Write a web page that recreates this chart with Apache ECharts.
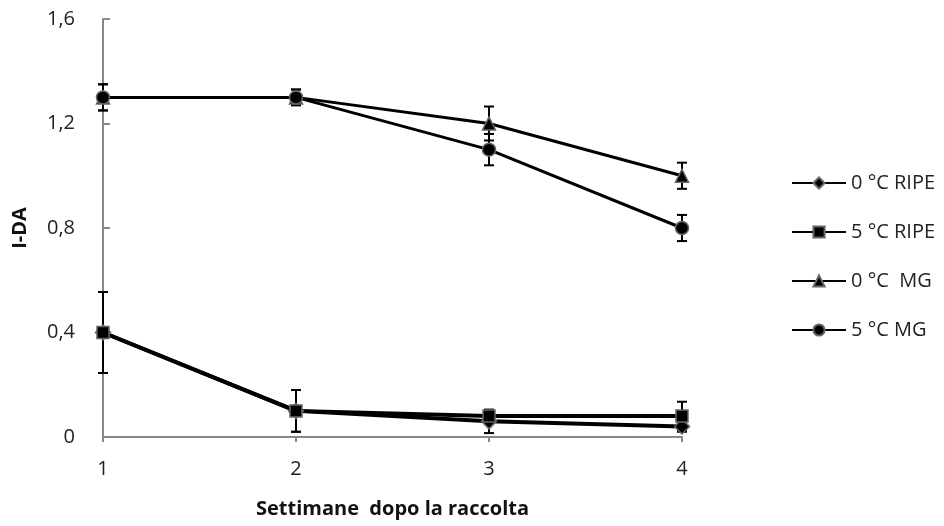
<!DOCTYPE html>
<html>
<head>
<meta charset="utf-8">
<script src="https://cdn.jsdelivr.net/npm/echarts@6/dist/echarts.min.js"></script>
<style>
  html, body { margin: 0; padding: 0; background: #fff; }
  #chart { width: 944px; height: 526px; }
</style>
</head>
<body>
<div id="chart"></div>
<script>
// settimane
const weeks = [1, 2, 3, 4];
const yTicks = [0, 0.4, 0.8, 1.2, 1.6];

// valori I-DA
const ripe0 = [0.4, 0.1, 0.06, 0.04];
const ripe5 = [0.4, 0.1, 0.08, 0.08];
const mg0 = [1.3, 1.3, 1.2, 1.0];
const mg5 = [1.3, 1.3, 1.1, 0.8];

// barre di errore (+/-)
const ripe0Err = [0.155, 0.08, 0.045, 0.02];
const ripe5Err = [0.155, 0.08, 0.02, 0.055];
const mg0Err = [0.05, 0.03, 0.065, 0.05];
const mg5Err = [0.05, 0.03, 0.06, 0.05];

const names = ['0 °C RIPE', '5 °C RIPE', '0 °C  MG', '5 °C MG'];
const symbols = ['diamond', 'rect', 'triangle', 'circle'];
const sizes = [15, 12, 13, 13];
const widths = [4, 4, 3, 3];
const values = [ripe0, ripe5, mg0, mg5];
const errs = [ripe0Err, ripe5Err, mg0Err, mg5Err];

const font = '"Open Sans", sans-serif';

const errData = [];
values.forEach(function (vals, s) {
  vals.forEach(function (v, i) {
    errData.push([weeks[i], v - errs[s][i], v + errs[s][i]]);
  });
});

const series = values.map(function (vals, s) {
  return {
    name: names[s],
    type: 'line',
    z: 3,
    data: vals.map(function (v, i) { return [weeks[i], v]; }),
    symbol: symbols[s],
    symbolSize: sizes[s],
    lineStyle: { color: '#000', width: widths[s] },
    itemStyle: { color: '#000', borderColor: '#666', borderWidth: 1.5 },
    emphasis: { disabled: true }
  };
});

series.push({
  type: 'custom',
  z: 2,
  silent: true,
  data: errData,
  encode: { x: 0, y: [1, 2] },
  renderItem: function (params, api) {
    const lo = api.coord([api.value(0), api.value(1)]);
    const hi = api.coord([api.value(0), api.value(2)]);
    const w = 5;
    const st = { stroke: '#000', lineWidth: 2 };
    return {
      type: 'group',
      children: [
        { type: 'line', shape: { x1: lo[0], y1: lo[1], x2: hi[0], y2: hi[1] }, style: st },
        { type: 'line', shape: { x1: lo[0] - w, y1: lo[1], x2: lo[0] + w, y2: lo[1] }, style: st },
        { type: 'line', shape: { x1: hi[0] - w, y1: hi[1], x2: hi[0] + w, y2: hi[1] }, style: st }
      ]
    };
  }
});

const chart = echarts.init(document.getElementById('chart'));
chart.setOption({
  animation: false,
  textStyle: { fontFamily: font },
  grid: { left: 103, right: 262, top: 19, bottom: 89, outerBoundsMode: 'none' },
  legend: {
    data: names,
    orient: 'vertical',
    left: 786,
    top: 168,
    itemWidth: 54,
    itemHeight: 14,
    itemGap: 29,
    textStyle: { fontFamily: font, fontSize: 20, color: '#222' }
  },
  xAxis: {
    type: 'value',
    min: 1,
    max: 4,
    interval: 1,
    name: 'Settimane  dopo la raccolta',
    nameLocation: 'middle',
    nameGap: 62,
    nameTextStyle: { fontFamily: font, fontSize: 20, fontWeight: 'bold', color: '#111' },
    axisLine: { lineStyle: { color: '#888', width: 2 } },
    axisTick: { show: true, length: 5, lineStyle: { color: '#888', width: 2 } },
    axisLabel: { fontFamily: font, fontSize: 20, color: '#222', margin: 22 },
    splitLine: { show: false }
  },
  yAxis: {
    type: 'value',
    min: 0,
    max: 1.6,
    interval: 0.4,
    name: 'I-DA',
    nameLocation: 'middle',
    nameGap: 73,
    nameTextStyle: { fontFamily: font, fontSize: 20, fontWeight: 'bold', color: '#111' },
    axisLine: { show: true, lineStyle: { color: '#888', width: 2 } },
    axisTick: { show: true, inside: true, length: 7, lineStyle: { color: '#888', width: 2 } },
    axisLabel: {
      fontFamily: font, fontSize: 20, color: '#222', margin: 28,
      formatter: function (v) {
        const t = yTicks.find(function (k) { return Math.abs(k - v) < 1e-9; });
        return String(t !== undefined ? t : v).replace('.', ',');
      }
    },
    splitLine: { show: false }
  },
  series: series
});
</script>
</body>
</html>
